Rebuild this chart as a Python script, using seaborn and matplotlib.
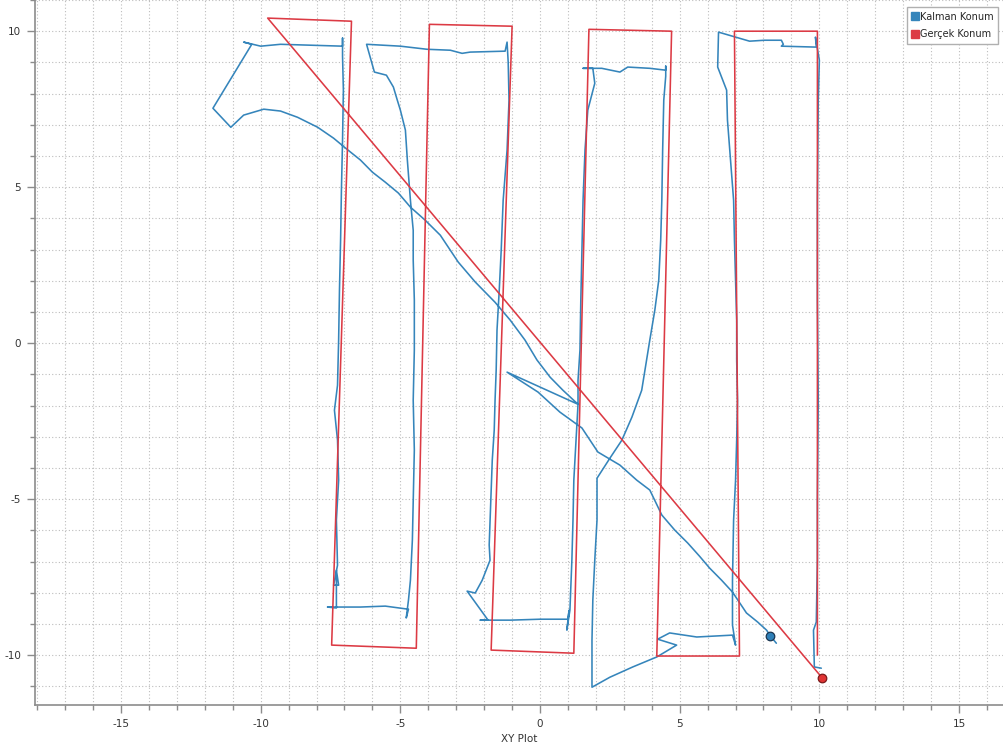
import seaborn as sns
import matplotlib.pyplot as plt
import pandas as pd
import numpy as np
from matplotlib.ticker import MultipleLocator
from matplotlib.lines import Line2D

# Kalman filtresi ile tahmin edilen konum (mavi)
kalman_x = [8.46, 8.25, 8.11, 7.79, 7.39, 6.89, 6.50, 6.07, 5.71, 5.29, 4.82, 4.36, 3.93, 3.46, 2.86, 2.07,
            1.50, 0.71, -0.07, -1.18, 1.36, 0.82, 0.36, -0.11, -0.54, -1.07, -1.61, -2.32, -2.93, -3.57,
            -4.11, -4.64, -5.07, -5.54, -6.00, -6.43, -6.96, -7.39, -7.96, -8.68, -9.29, -9.89, -10.61,
            -11.07, -11.71, -10.32, -10.61, -10.00, -9.29, -8.21, -7.07, -7.07, -7.07,
            -7.04, -7.07, -7.11, -7.14, -7.18, -7.21, -7.25, -7.36, -7.25, -7.21, -7.29, -7.25, -7.39,
            -7.21, -7.29, -7.29, -7.61, -6.43, -5.54, -4.71, -4.79, -4.71, -4.64,
            -4.57, -4.54, -4.50, -4.54, -4.50, -4.50, -4.54, -4.54, -4.64, -4.75, -4.82, -5.00, -5.11,
            -5.25, -5.50, -5.93, -6.21,
            -5.00, -4.04, -3.21, -2.79, -2.50, -1.25, -1.18, -1.14,
            -1.11, -1.18, -1.32, -1.39, -1.46, -1.54, -1.57, -1.61, -1.64, -1.71, -1.75, -1.79, -1.82,
            -1.79, -2.07, -2.32, -2.61, -1.86, -2.14, -1.07, 0.00, 1.00, 1.04, 0.96,
            1.07, 1.14, 1.18, 1.21, 1.29, 1.36, 1.36, 1.43, 1.46, 1.50, 1.54, 1.61, 1.71, 1.96, 1.89,
            1.54, 2.21, 2.86, 3.14, 3.93, 4.50, 4.50, 4.50,
            4.43, 4.39, 4.36, 4.32, 4.25, 4.11, 3.93, 3.64, 3.29, 2.93, 2.50, 2.04, 2.04, 1.96, 1.89,
            1.86, 1.86, 2.50, 3.32, 4.18, 4.89, 4.21, 4.64, 5.61, 6.89, 7.00,
            6.89, 6.89, 6.93, 7.00, 7.04, 7.07, 7.04, 7.04, 7.00, 6.96, 6.93, 6.82, 6.71, 6.68, 6.36,
            6.39, 7.50, 8.04, 8.64, 8.71, 8.64, 9.89, 9.86, 10.00,
            9.96, 9.93, 9.93, 9.96, 9.93, 9.93, 9.89, 9.79, 9.82, 10.07]
kalman_y = [-9.62, -9.39, -9.20, -8.94, -8.65, -7.98, -7.60, -7.21, -6.83, -6.41, -5.99, -5.51, -4.71, -4.39,
            -3.91, -3.49, -2.72, -2.21, -1.57, -0.93, -1.96, -1.51, -1.09, -0.54, 0.10, 0.74, 1.31, 1.96,
            2.60, 3.46, 3.94, 4.36, 4.81, 5.16, 5.48, 5.87, 6.25, 6.57, 6.92, 7.24, 7.44, 7.50, 7.31,
            6.92, 7.53, 9.58, 9.65, 9.52, 9.58, 9.55, 9.52, 9.78, 9.20,
            8.11, 6.51, 4.90, 3.30, 1.70, 0.10, -1.35, -2.15, -3.11, -4.39, -5.67, -7.12, -7.76,
            -7.76, -7.28, -8.49, -8.46, -8.46, -8.43, -8.53, -8.81, -8.24, -7.60,
            -6.31, -5.03, -3.43, -1.83, -0.22, 1.38, 2.66, 3.62, 4.58, 5.87, 6.83, 7.47, 7.79,
            8.21, 8.59, 8.69, 9.58,
            9.52, 9.42, 9.39, 9.29, 9.33, 9.36, 9.65, 9.01,
            7.79, 6.19, 4.58, 2.98, 1.70, 0.42, -0.87, -1.83, -2.79, -3.75, -4.71, -5.67, -6.47,
            -6.96, -7.60, -8.01, -7.95, -8.88, -8.88, -8.88, -8.85, -8.85, -8.56, -9.20,
            -8.56, -6.96, -5.67, -4.39, -3.11, -1.96, -1.19, -0.22, 1.38, 2.98, 4.58, 6.19, 7.47, 8.33,
            8.81, 8.81, 8.81, 8.69, 8.85, 8.81, 8.75, 8.88, 8.56,
            7.79, 6.19, 4.58, 3.30, 2.02, 1.06, 0.10, -1.51, -2.37, -3.11, -3.69, -4.33, -5.67, -6.96,
            -8.24, -9.52, -11.03, -10.71, -10.38, -10.06, -9.68, -9.49, -9.29, -9.42, -9.36, -9.68,
            -9.04, -7.60, -5.67, -4.39, -3.11, -1.83, -0.54, 0.74, 2.02, 3.30, 4.58, 5.87, 7.15, 8.11,
            8.85, 9.97, 9.68, 9.71, 9.71, 9.58, 9.52, 9.49, 9.81, 9.07,
            7.79, 4.58, 1.38, -1.83, -5.03, -6.96, -8.94, -9.20, -10.38, -10.42]

# Gercek konum (kirmizi)
gercek_x = [10.11, -9.75, -6.75, -7.46, -4.43, -3.96, -1.00, -1.75, 1.21, 1.75, 4.71, 4.18, 7.14, 6.96,
            9.93, 9.93]
gercek_y = [-10.74, 10.42, 10.32, -9.68, -9.78, 10.22, 10.16, -9.84, -9.94, 10.06, 10.00, -10.03, -10.03,
            10.00, 10.00, -10.00]

# son konumlar
kalman_son = (8.25, -9.39)
gercek_son = (10.11, -10.74)

seriler = ["Kalman Konum", "Gerçek Konum"]
renkler = {"Kalman Konum": "#3585bb", "Gerçek Konum": "#dc3a44"}

df = pd.DataFrame({
    "x": kalman_x + gercek_x,
    "y": kalman_y + gercek_y,
    "seri": [seriler[0]] * len(kalman_x) + [seriler[1]] * len(gercek_x),
})

sns.set_style("white")
plt.rcParams["font.family"] = ["DejaVu Sans"]
plt.rcParams["axes.unicode_minus"] = False

fig = plt.figure(figsize=(10.04, 7.53), dpi=100)
ax = fig.add_axes([35 / 1004, 48 / 753, 969 / 1004, 705 / 753])

sns.lineplot(data=df, x="x", y="y", hue="seri", palette=renkler, sort=False,
             estimator=None, linewidth=1.15, legend=False, ax=ax, zorder=3)

ax.scatter([kalman_son[0]], [kalman_son[1]], s=38, color="#2f80b8", edgecolor="#1b3550",
           linewidth=0.9, zorder=5)
ax.scatter([gercek_son[0]], [gercek_son[1]], s=38, color="#e03434", edgecolor="#7a1a1a",
           linewidth=0.9, zorder=5)

ax.set_xlim(-18.08, 16.61)
ax.set_ylim(-11.6, 11.0)
ax.xaxis.set_major_locator(MultipleLocator(5))
ax.xaxis.set_minor_locator(MultipleLocator(1))
ax.yaxis.set_major_locator(MultipleLocator(5))
ax.yaxis.set_minor_locator(MultipleLocator(1))
ax.grid(which="both", linestyle=(0, (1, 2)), color="#bdbdbd", linewidth=0.8, zorder=0)
ax.set_axisbelow(True)

for s in ["top", "right"]:
    ax.spines[s].set_visible(False)
for s in ["left", "bottom"]:
    ax.spines[s].set_color("#8c8c8c")
    ax.spines[s].set_linewidth(1.2)

ax.tick_params(which="major", direction="out", length=6, width=1, color="#8c8c8c",
               labelsize=7.5, labelcolor="#333333", pad=4, left=True, bottom=True)
ax.tick_params(which="minor", direction="out", length=3.5, width=1, color="#8c8c8c",
               left=True, bottom=True)

ax.set_xlabel("XY Plot", fontsize=7.5, color="#333333", labelpad=4)
ax.set_ylabel("")

handles = [Line2D([], [], marker="s", linestyle="none", markersize=5.5,
                  markerfacecolor=renkler[s], markeredgecolor=renkler[s]) for s in seriler]
ax.legend(handles, seriler, loc="upper right", bbox_to_anchor=(998 / 1004, 1 - 7 / 753),
          bbox_transform=fig.transFigure, borderaxespad=0, fontsize=7, frameon=True,
          fancybox=False, edgecolor="#b0b0b0", framealpha=1, handlelength=0.6,
          handletextpad=0.2, borderpad=0.5, labelspacing=0.75)

fig.savefig("out.png", dpi=100)
